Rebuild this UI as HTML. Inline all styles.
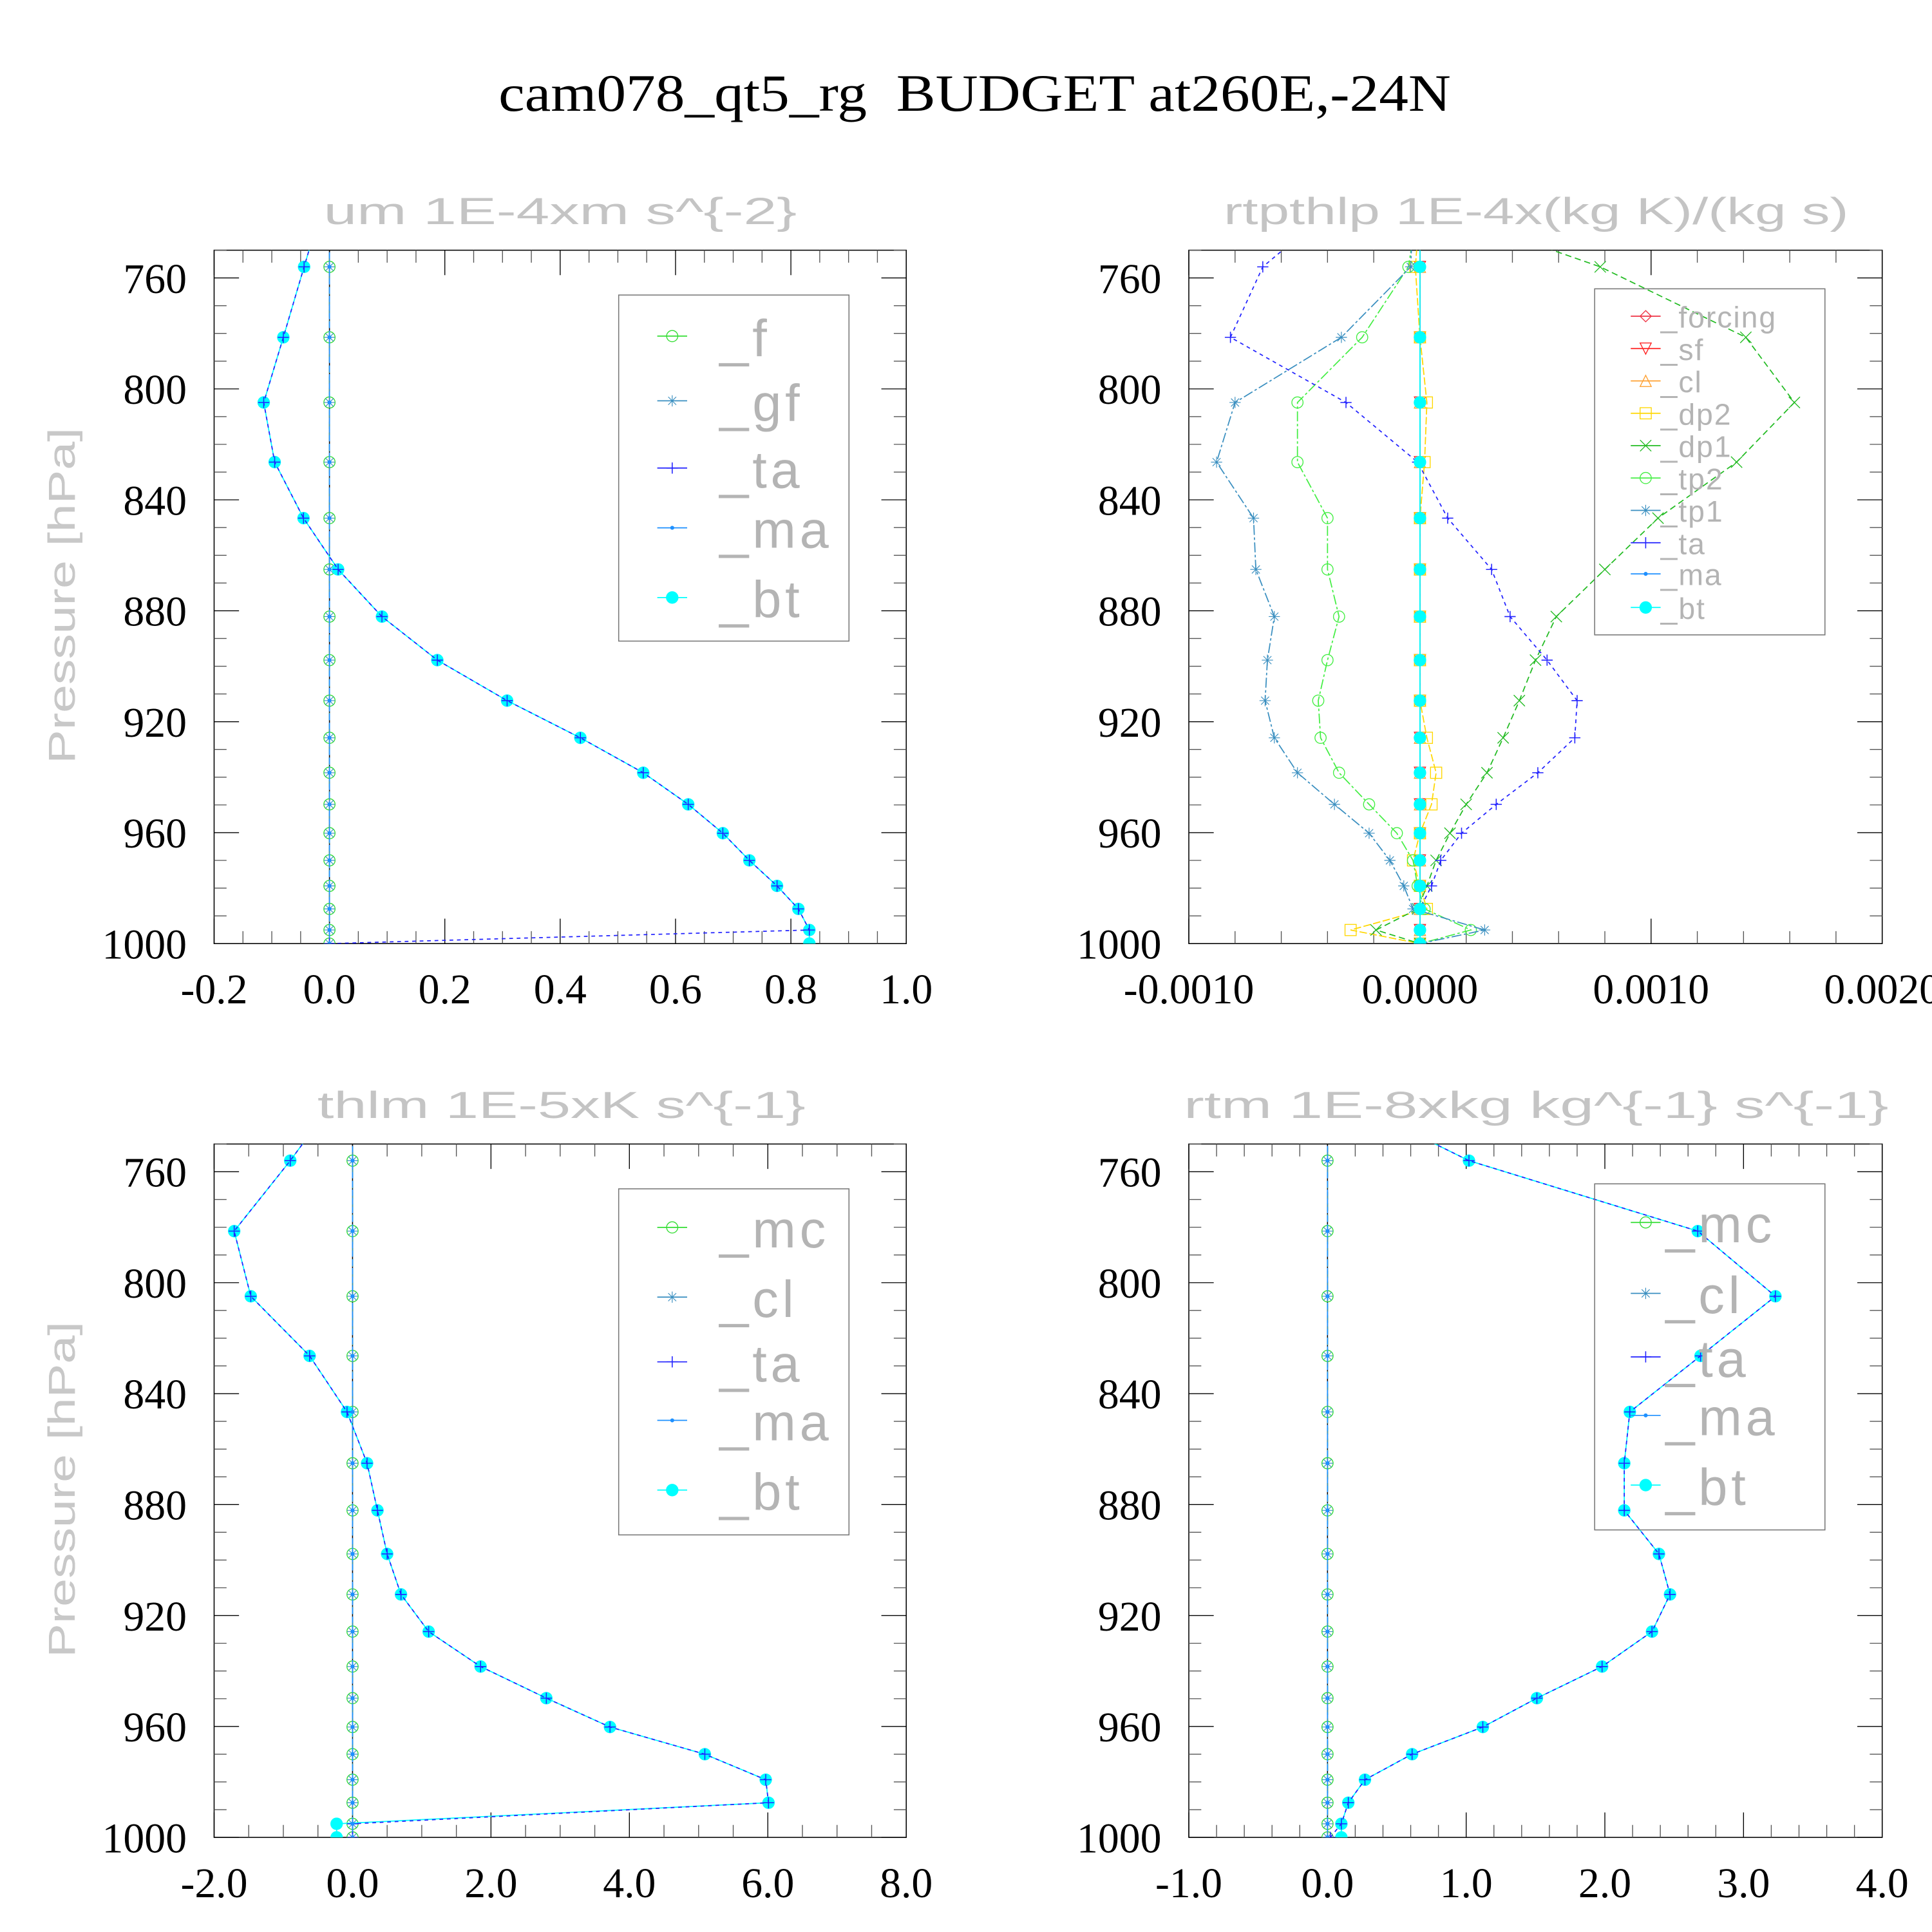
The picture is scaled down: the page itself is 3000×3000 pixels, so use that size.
<!DOCTYPE html>
<html><head><meta charset="utf-8"><style>
html,body{margin:0;padding:0;background:#fff;}
svg{display:block;}
</style></head><body>
<svg id="fig" xmlns="http://www.w3.org/2000/svg" width="3000" height="3000" viewBox="0 0 1552 1552">
<rect width="1552" height="1552" fill="#fff"/>
<text x="783" y="89" text-anchor="middle" font-family="Liberation Serif, serif" font-size="42" textLength="765" lengthAdjust="spacingAndGlyphs" xml:space="preserve">cam078_qt5_rg  BUDGET at260E,-24N</text>
</svg>
<script>
// ---- data ----
const levels = [735,756,781.4,804.9,826.4,846.6,865.1,882.1,897.8,912.4,925.8,938.4,949.8,960.2,970,979.2,987.5,995.1,1000];
const yTicks = [760,800,840,880,920,960,1000];
const zeros = [0,0,0,0,0,0,0,0,0,0,0,0,0,0,0,0,0,0,0];

const um_bt = [-0.014,-0.044,-0.080,-0.114,-0.095,-0.045,0.015,0.091,0.187,0.308,0.435,0.544,0.622,0.682,0.728,0.776,0.813,0.832,0.832];
const um_ta = [-0.014,-0.044,-0.080,-0.114,-0.095,-0.045,0.015,0.091,0.187,0.308,0.435,0.544,0.622,0.682,0.728,0.776,0.813,0.832,0];
const um_xTicks = ["-0.2","0.0","0.2","0.4","0.6","0.8","1.0"];

const rt_dp1 = [0.00006,0.00078,0.00141,0.00162,0.00137,0.00103,0.00080,0.00059,0.00050,0.00043,0.00036,0.00029,0.00020,0.00013,0.00007,0.00003,-0.00001,-0.00019,0];
const rt_tp2 = [-0.00001,-0.00005,-0.00025,-0.00053,-0.00053,-0.00040,-0.00040,-0.00035,-0.00040,-0.00044,-0.00043,-0.00035,-0.00022,-0.00010,-0.00003,-0.00001,0.00002,0.00022,0];
const rt_tp1 = [-0.00003,-0.00004,-0.00034,-0.00080,-0.00088,-0.00072,-0.00071,-0.00063,-0.00066,-0.00067,-0.00063,-0.00053,-0.00037,-0.00022,-0.00013,-0.00007,-0.00003,0.00028,0];
const rt_ta = [-0.00038,-0.00068,-0.00082,-0.00032,-0.00001,0.00012,0.00031,0.00039,0.00055,0.00068,0.00067,0.00051,0.00033,0.00018,0.00009,0.00005,0,0,0];
const rt_dp2 = [0,-0.00002,0,0.00003,0.00002,0,0,0,0,0,0.00003,0.00007,0.00005,0,-0.00003,0,0.00003,-0.00030,0];
const rt_xTicks = ["-0.0010","0.0000","0.0010","0.0020"];

const th_bt = [-0.28,-0.90,-1.71,-1.47,-0.62,-0.08,0.21,0.36,0.50,0.70,1.10,1.85,2.80,3.72,5.09,5.97,6.01,-0.23,-0.23];
const th_ta = [-0.28,-0.90,-1.71,-1.47,-0.62,-0.08,0.21,0.36,0.50,0.70,1.10,1.85,2.80,3.72,5.09,5.97,6.01,0,0];
const th_xTicks = ["-2.0","0.0","2.0","4.0","6.0","8.0"];

const rm_bt = [0.17,1.02,2.67,3.23,2.69,2.18,2.14,2.14,2.39,2.47,2.34,1.98,1.51,1.12,0.61,0.27,0.15,0.10,0.10];
const rm_ta = [0.17,1.02,2.67,3.23,2.69,2.18,2.14,2.14,2.39,2.47,2.34,1.98,1.51,1.12,0.61,0.27,0.15,0.10,0.02];
const rm_xTicks = ["-1.0","0.0","1.0","2.0","3.0","4.0"];

// ---- layout / styling ----
const NS = "http://www.w3.org/2000/svg";
const svg = document.getElementById('fig');
function mk(tag, attrs, parent){
  const e = document.createElementNS(NS, tag);
  for (const k in attrs) e.setAttribute(k, attrs[k]);
  (parent||svg).appendChild(e);
  return e;
}
const COL = {f:'#33dd33', gf:'#3a8fc0', ta:'#2222ff', ma:'#1e90ff', bt:'#00ffff', forcing:'#ee3344', sf:'#ff2222', cl:'#ffa030', cl2:'#3a8fc0', dp2:'#ffd700', dp1:'#22bb22', tp2:'#44ee44', tp1:'#3a8fc0', mc:'#33dd33'};

const panels = [
 {id:'um', title:'um   1E-4xm  s^{-2}', tx:[260,640], x0:172, x1:728, y0:201, y1:758, xmin:-0.2, xmax:1.0, xt:um_xTicks, xminor:0.05,
  legend:{box:[497,237,682,515], mx:540, tx:578, ys:[270,322,376,424,480], fs:42},
  series:[['f',zeros,'circle','6,3','f'],['gf',zeros,'aster','6,3','gf'],['bt',um_bt,'fill','none','bt'],['ta',um_ta,'plus','3,3','ta'],['ma',zeros,'dot','5,2','ma']],
  legendOrder:['f','gf','ta','ma','bt']},
 {id:'rtpthlp', title:'rtpthlp   1E-4x(kg K)/(kg s)', tx:[983,1485], x0:955, x1:1512, y0:201, y1:758, xmin:-0.001, xmax:0.002, xt:rt_xTicks, xminor:0.0002,
  legend:{box:[1281,232,1466,510], mx:1322, tx:1334, ys:[254,280,306,332,358,384,410,436,461,488], fs:24},
  series:[['forcing',zeros,'diamond','none','forcing'],['sf',zeros,'tridown','none','sf'],['cl',zeros,'triup','5,3','cl'],['dp2',rt_dp2,'square','6,2','dp2'],['dp1',rt_dp1,'x','5,3','dp1'],['tp2',rt_tp2,'circle','8,2,2,2','tp2'],['tp1',rt_tp1,'aster','8,2,2,2','tp1'],['ta',rt_ta,'plus','3,3','ta'],['ma',zeros,'dot','none','ma'],['bt',zeros,'fill','none','bt']],
  legendOrder:['forcing','sf','cl','dp2','dp1','tp2','tp1','ta','ma','bt']},
 {id:'thlm', title:'thlm   1E-5xK  s^{-1}', tx:[255,647], x0:172, x1:728, y0:919, y1:1476, xmin:-2, xmax:8, xt:th_xTicks, xminor:0.5,
  legend:{box:[497,955,682,1233], mx:540, tx:578, ys:[986,1042,1094,1141,1197], fs:42},
  series:[['mc',zeros,'circle','6,3','mc'],['cl',zeros,'aster','6,3','cl2'],['bt',th_bt,'fill','none','bt'],['ta',th_ta,'plus','3,3','ta'],['ma',zeros,'dot','5,2','ma']],
  legendOrder:['mc','cl','ta','ma','bt']},
 {id:'rtm', title:'rtm   1E-8xkg  kg^{-1}  s^{-1}', tx:[951,1517], x0:955, x1:1512, y0:919, y1:1476, xmin:-1, xmax:4, xt:rm_xTicks, xminor:0.2,
  legend:{box:[1281,951,1466,1229], mx:1322, tx:1338, ys:[982,1039,1090,1137,1193], fs:42},
  series:[['mc',zeros,'circle','6,3','mc'],['cl',zeros,'aster','6,3','cl2'],['bt',rm_bt,'fill','none','bt'],['ta',rm_ta,'plus','3,3','ta'],['ma',zeros,'dot','5,2','ma']],
  legendOrder:['mc','cl','ta','ma','bt']}
];

function marker(g, shape, x, y, c, name){
  let e;
  const r = 4.5;
  if (shape==='circle') e = mk('circle',{cx:x,cy:y,r:r,fill:'none',stroke:c,'stroke-width':0.7},g);
  else if (shape==='fill') e = mk('circle',{cx:x,cy:y,r:5,fill:c},g);
  else if (shape==='dot') e = mk('circle',{cx:x,cy:y,r:1.6,fill:c},g);
  else if (shape==='plus') e = mk('path',{d:`M${x-r},${y}H${x+r}M${x},${y-r}V${y+r}`,stroke:c,'stroke-width':0.8,fill:'none'},g);
  else if (shape==='x') e = mk('path',{d:`M${x-r},${y-r}L${x+r},${y+r}M${x-r},${y+r}L${x+r},${y-r}`,stroke:c,'stroke-width':0.7,fill:'none'},g);
  else if (shape==='aster') e = mk('path',{d:`M${x-r},${y}H${x+r}M${x},${y-r}V${y+r}M${x-3.2},${y-3.2}L${x+3.2},${y+3.2}M${x-3.2},${y+3.2}L${x+3.2},${y-3.2}`,stroke:c,'stroke-width':0.6,fill:'none'},g);
  else if (shape==='diamond') e = mk('path',{d:`M${x},${y-r}L${x+r},${y}L${x},${y+r}L${x-r},${y}Z`,stroke:c,'stroke-width':0.7,fill:'none'},g);
  else if (shape==='tridown') e = mk('path',{d:`M${x-r},${y-r}L${x+r},${y-r}L${x},${y+r}Z`,stroke:c,'stroke-width':0.7,fill:'none'},g);
  else if (shape==='triup') e = mk('path',{d:`M${x-r},${y+r}L${x+r},${y+r}L${x},${y-r}Z`,stroke:c,'stroke-width':0.7,fill:'none'},g);
  else if (shape==='square') e = mk('rect',{x:x-r,y:y-r,width:2*r,height:2*r,stroke:c,'stroke-width':0.7,fill:'none'},g);
  
  
  return e;
}

panels.forEach((P, pi) => {
  const g = mk('g', {});
  
  
  const sx = v => P.x0 + (v - P.xmin) / (P.xmax - P.xmin) * (P.x1 - P.x0);
  const sy = p => P.y0 + (p - 750) / 250 * (P.y1 - P.y0);

  const t = mk('text', {x:P.tx[0], y:P.y0-21, 'font-family':'Liberation Sans, sans-serif', 'font-size':30, fill:'#c4c4c4', textLength:P.tx[1]-P.tx[0], lengthAdjust:'spacingAndGlyphs', 'xml:space':'preserve'}, g);
  t.textContent = P.title;
  
  

  const cy = (P.y0 + P.y1) / 2 - 1;
  const yl = mk('text', {x:0, y:0, transform:`translate(60,${cy}) rotate(-90)`, 'text-anchor':'middle', 'font-family':'Liberation Sans, sans-serif', 'font-size':30, fill:'#c8c8c8', textLength:270, lengthAdjust:'spacingAndGlyphs', 'xml:space':'preserve'}, g);
  yl.textContent = 'Pressure [hPa]';
  
  

  const fr = mk('rect', {x:P.x0, y:P.y0, width:P.x1-P.x0, height:P.y1-P.y0, fill:'none', stroke:'#000', 'stroke-width':0.8}, g);
  
  

  for (let p = 750; p <= 1000; p += 10) {
    const major = (p % 40 === 0);
    const L = major ? 20 : 10;
    const tk = mk('path', {d:`M${P.x0},${sy(p)}h${L}M${P.x1},${sy(p)}h${-L}`, stroke:major?'#000':'#555', 'stroke-width':0.7}, g);
    
    
  }
  yTicks.forEach(p => {
    const tl = mk('text', {x:P.x0-22, y:sy(p)+12, 'text-anchor':'end', 'font-family':'Liberation Serif, serif', 'font-size':34, fill:'#000'}, g);
    tl.textContent = String(p);
    
    
  });
  const nMinor = Math.round((P.xmax - P.xmin) / P.xminor);
  const majorStep = (P.xmax - P.xmin) / (P.xt.length - 1);
  for (let i = 0; i <= nMinor; i++) {
    const v = P.xmin + i * P.xminor;
    const ratio = (v - P.xmin) / majorStep;
    const major = Math.abs(ratio - Math.round(ratio)) < 1e-6;
    const L = major ? 20 : 10;
    const tk = mk('path', {d:`M${sx(v)},${P.y1}v${-L}M${sx(v)},${P.y0}v${L}`, stroke:major?'#000':'#555', 'stroke-width':0.7}, g);
    
    
  }
  P.xt.forEach((lab, i) => {
    const v = P.xmin + i * majorStep;
    const tl = mk('text', {x:sx(v), y:P.y1+48, 'text-anchor':'middle', 'font-family':'Liberation Serif, serif', 'font-size':34, fill:'#000'}, g);
    tl.textContent = lab;
    
    
  });

  const zl = mk('line', {x1:sx(0), x2:sx(0), y1:P.y0, y2:P.y1, stroke:'#000', 'stroke-width':0.8}, g);
  
  

  const cid = 'clip' + pi;
  const cp = mk('clipPath', {id:cid}, g);
  mk('rect', {x:P.x0, y:P.y0, width:P.x1-P.x0, height:P.y1-P.y0}, cp);
  const dg = mk('g', {'clip-path':`url(#${cid})`}, g);
  
  

  const byKey = {};
  P.series.forEach(([key, vals, shape, dash, ck]) => {
    byKey[key] = [shape, ck];
    const c = COL[ck];
    const sg = mk('g', {}, dg);
    
    
    const pts = vals.map((v, i) => `${sx(v).toFixed(2)},${sy(levels[i]).toFixed(2)}`).join(' ');
    const pl = mk('polyline', {points:pts, fill:'none', stroke:c, 'stroke-width':0.9}, sg);
    if (dash !== 'none') pl.setAttribute('stroke-dasharray', dash);
    
    
    vals.forEach((v, i) => {
      if (levels[i] < 750) return;
      marker(sg, shape, sx(v), sy(levels[i]), c, P.id + '-point-' + key);
    });
  });

  const Lg = P.legend;
  const lg = mk('g', {}, g);
  
  
  const lb = mk('rect', {x:Lg.box[0], y:Lg.box[1], width:Lg.box[2]-Lg.box[0], height:Lg.box[3]-Lg.box[1], fill:'none', stroke:'#777', 'stroke-width':0.8}, lg);
  
  
  P.legendOrder.forEach((key, i) => {
    const y = Lg.ys[i];
    const [shape, ck] = byKey[key];
    const c = COL[ck];
    const eg = mk('g', {}, lg);
    
    
    const ln = mk('line', {x1:Lg.mx-12, x2:Lg.mx+12, y1:y, y2:y, stroke:c, 'stroke-width':0.9}, eg);
    
    
    marker(eg, shape, Lg.mx, y, c, 'legend-marker-' + key);
    const tx = mk('text', {x:Lg.tx, y:y + Lg.fs*0.38, 'font-family':'Liberation Sans, sans-serif', 'font-size':Lg.fs, fill:'#b4b4b4', 'letter-spacing':Lg.fs>30?3:1}, eg);
    tx.textContent = '_' + key;
    
    
  });
});
</script>
</body></html>
